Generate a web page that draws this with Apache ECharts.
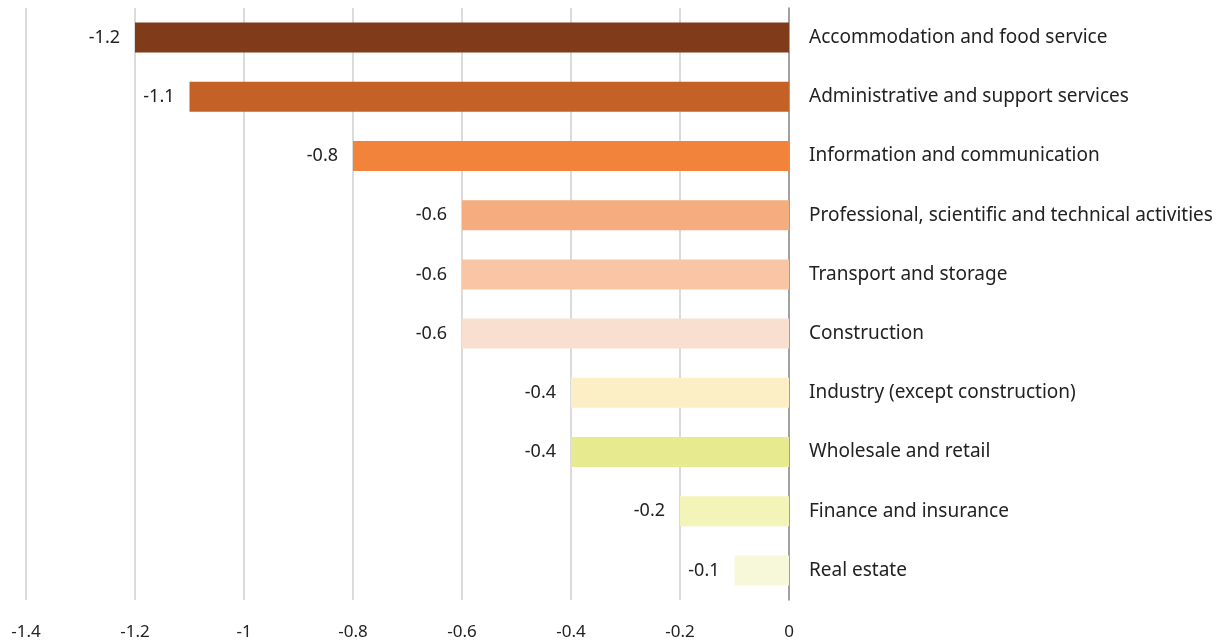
<!DOCTYPE html>
<html>
<head>
<meta charset="utf-8">
<script src="https://cdn.jsdelivr.net/npm/echarts@6/dist/echarts.min.js"></script>
<style>
  html, body { margin: 0; padding: 0; background: #fff; }
  #chart { width: 1230px; height: 644px; }
</style>
</head>
<body>
<div id="chart"></div>
<script>
var categories = [
  'Accommodation and food service',
  'Administrative and support services',
  'Information and communication',
  'Professional, scientific and technical activities',
  'Transport and storage',
  'Construction',
  'Industry (except construction)',
  'Wholesale and retail',
  'Finance and insurance',
  'Real estate'
];
var values = [-1.2, -1.1, -0.8, -0.6, -0.6, -0.6, -0.4, -0.4, -0.2, -0.1];
var barColors = ['#7f3b1a', '#c46127', '#f2833b', '#f5ac7f', '#f8c6a5',
                 '#f9dfcf', '#fcefc5', '#e8ea8f', '#f3f4b8', '#f7f8d9'];

var chart = echarts.init(document.getElementById('chart'));
var font = '"Noto Sans", sans-serif';

chart.setOption({
  animation: false,
  textStyle: { fontFamily: font },
  grid: { left: 26, right: 441, top: 8, bottom: 44, containLabel: false },
  xAxis: {
    type: 'value',
    min: -1.4,
    max: 0,
    interval: 0.2,
    axisLine: { show: false },
    axisTick: { show: false },
    axisLabel: {
      color: '#222',
      fontSize: 17,
      fontFamily: font,
      margin: 24,
      formatter: function (v) { return String(Math.round(v * 10) / 10); }
    },
    splitLine: { show: true, lineStyle: { color: '#cfcfcf', width: 1.5 } }
  },
  yAxis: {
    type: 'category',
    data: categories,
    inverse: true,
    position: 'right',
    axisLine: { show: true, onZero: false, lineStyle: { color: '#8c8c8c', width: 1.5 } },
    axisTick: { show: false },
    axisLabel: {
      color: '#222',
      fontSize: 19,
      fontFamily: font,
      margin: 20,
      align: 'left'
    }
  },
  series: [{
    type: 'bar',
    barWidth: 30,
    data: values.map(function (v, i) {
      return { value: v, itemStyle: { color: barColors[i] } };
    }),
    label: {
      show: true,
      position: 'left',
      distance: 15,
      color: '#222',
      fontSize: 18,
      fontFamily: font
    }
  }]
});
window.addEventListener('resize', chart.resize);
</script>
</body>
</html>
